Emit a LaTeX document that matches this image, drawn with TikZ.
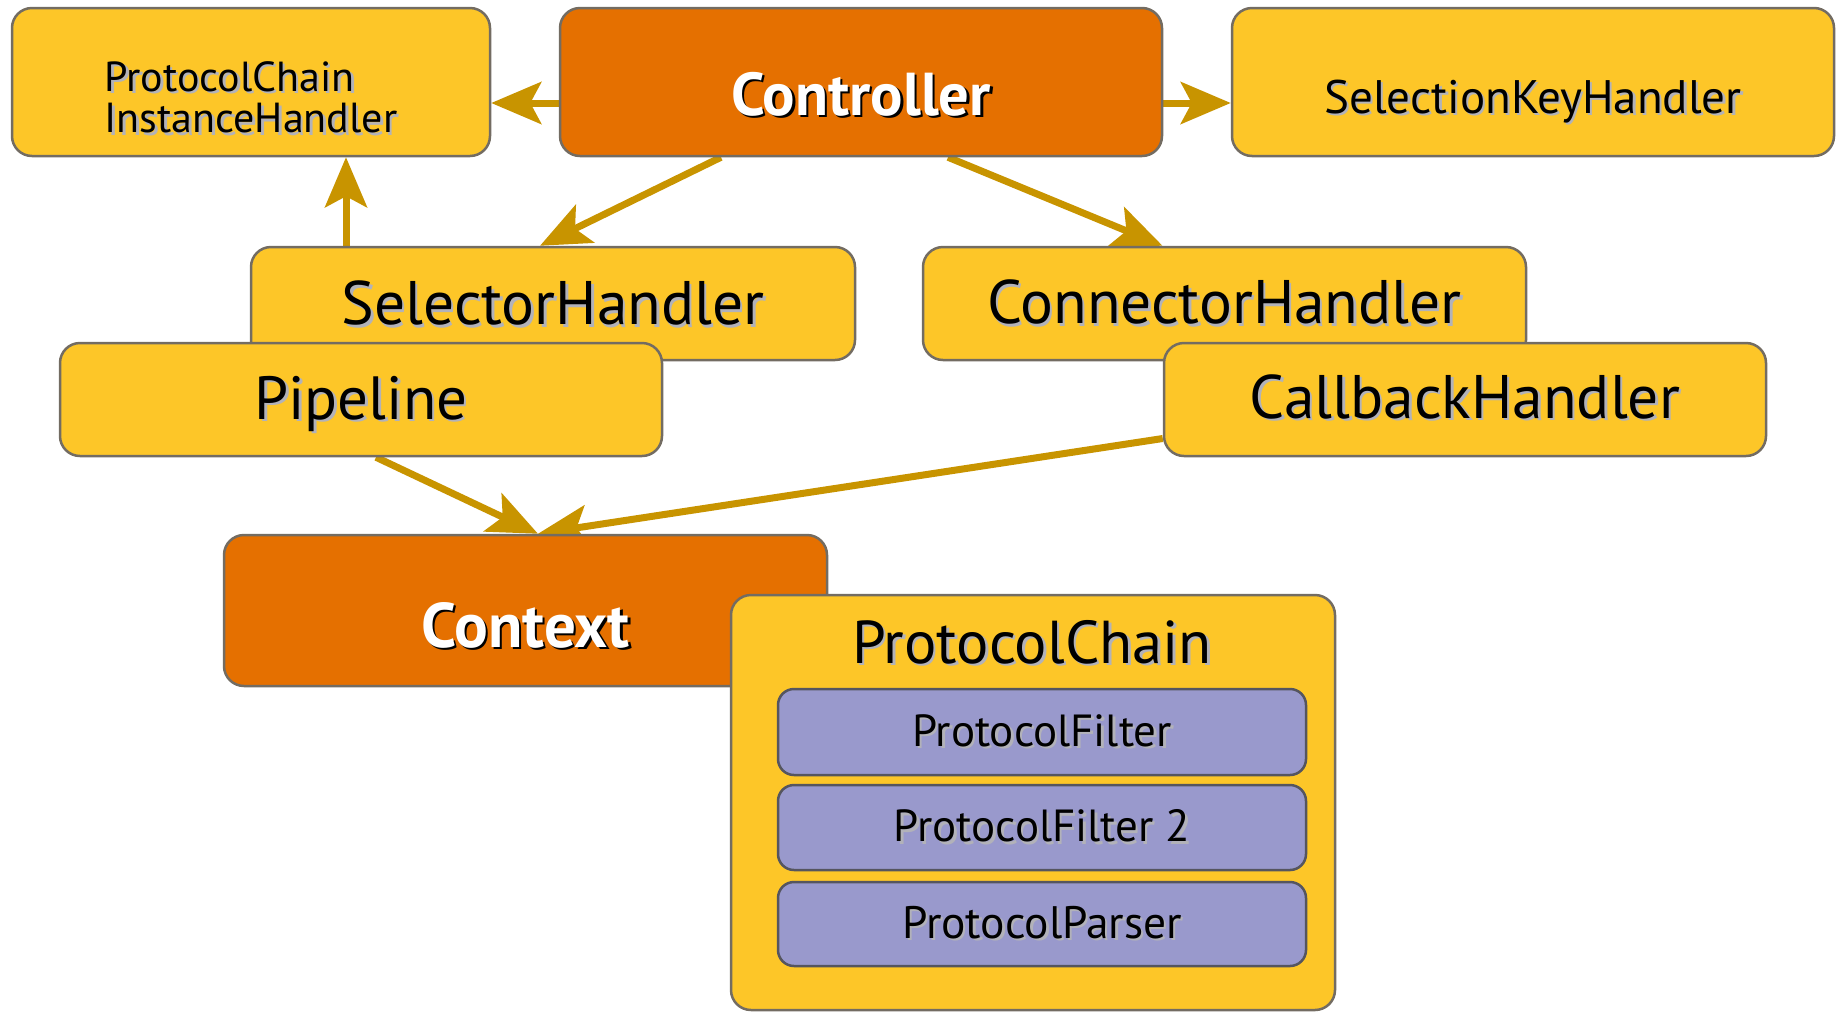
\documentclass[tikz,border=0pt]{standalone}
\usepackage{fontspec}
\setmainfont{PT Sans}
\newfontfamily\lblfont{PT Sans}
\usetikzlibrary{arrows.meta}
\definecolor{boxyellow}{RGB}{253,198,40}
\definecolor{boxorange}{RGB}{229,112,0}
\definecolor{boxpurple}{RGB}{153,153,204}
\definecolor{arrowc}{RGB}{200,148,0}
\definecolor{edgegray}{RGB}{115,108,98}
\definecolor{edgedark}{RGB}{85,85,95}
\definecolor{shadowgray}{RGB}{178,178,185}
\pgfdeclarelayer{bg}
\pgfsetlayers{bg,main}
\newcommand\shd[3]{\makebox[0pt][l]{\kern2.5pt\raisebox{-2.5pt}{\textcolor{#2}{#3}}}\textcolor{#1}{#3}}
\newcommand\lbl[5]{\raisebox{-#1pt}[0pt][0pt]{\fontsize{#2}{#2}\selectfont\shd{#3}{#4}{#5}}}
\tikzset{
  box/.style={draw=edgegray, line width=2.5pt, rounded corners=20pt, inner sep=0pt, font=\lblfont},
  ybox/.style={box, fill=boxyellow},
  obox/.style={box, fill=boxorange},
  pbox/.style={box, fill=boxpurple, draw=edgedark, rounded corners=16pt},
  arr/.style={draw=arrowc, line width=7pt, -{Stealth[length=50pt,width=42pt,inset=11pt]}},
}
\begin{document}
\begin{tikzpicture}[x=1pt,y=-1pt]
\useasboundingbox (0,0) rectangle (1841,1013);
% top row
\node[ybox, minimum width=478pt, minimum height=148pt] (pcih) at (251,82)
  {\raisebox{-9pt}[0pt][0pt]{\fontsize{42}{41}\selectfont\begin{tabular}[t]{@{}l@{}}\shd{black}{shadowgray}{ProtocolChain}\\\shd{black}{shadowgray}{InstanceHandler}\end{tabular}}};
\node[obox, minimum width=602pt, minimum height=148pt] (controller) at (861,82)
  {\lbl{33}{60.5}{white}{black}{\bfseries Controller}};
\node[ybox, minimum width=602pt, minimum height=148pt] (skh) at (1533,82)
  {\lbl{31}{47}{black}{shadowgray}{SelectionKeyHandler}};
% handlers
\node[ybox, minimum width=604pt, minimum height=113pt] (selector) at (553,303.5)
  {\lbl{21}{61.5}{black}{shadowgray}{SelectorHandler}};
\node[ybox, minimum width=603pt, minimum height=113pt] (connector) at (1224.5,303.5)
  {\lbl{20}{61.5}{black}{shadowgray}{ConnectorHandler}};
\node[ybox, minimum width=602pt, minimum height=113pt] (pipeline) at (361,399.5)
  {\lbl{19.5}{61}{black}{shadowgray}{Pipeline}};
\node[ybox, minimum width=602pt, minimum height=113pt] (callback) at (1465,399.5)
  {\lbl{18.5}{61.5}{black}{shadowgray}{CallbackHandler}};
% context and chain
\node[obox, minimum width=603pt, minimum height=151pt] (context) at (525.5,610.5)
  {\lbl{36.5}{63}{white}{black}{\bfseries Context}};
\node[ybox, minimum width=604pt, minimum height=415pt] (chain) at (1033,802.5) {};
\node[inner sep=0pt, anchor=base, font=\lblfont] (chaintitle) at (1032,663)
  {\fontsize{60.5}{60.5}\selectfont\shd{black}{shadowgray}{ProtocolChain}};
\node[pbox, minimum width=528pt, minimum height=86pt] (pf1) at (1042,732)
  {\lbl{14}{45}{black}{shadowgray}{ProtocolFilter}};
\node[pbox, minimum width=528pt, minimum height=85pt] (pf2) at (1042,827.5)
  {\lbl{14}{45}{black}{shadowgray}{ProtocolFilter 2}};
\node[pbox, minimum width=528pt, minimum height=84pt] (pp) at (1042,924)
  {\lbl{14}{45.5}{black}{shadowgray}{ProtocolParser}};
\coordinate (upx) at (346,0);
\begin{pgfonlayer}{bg}
\draw[arr] ([yshift=-21pt]controller.west) -- ([yshift=-21pt]pcih.east);
\draw[arr] ([yshift=-21pt]controller.east) -- ([yshift=-21pt]skh.west);
\draw[arr] ([xshift=-140pt]controller.south) -- ([xshift=-13pt]selector.north);
\draw[arr] ([xshift=87pt]controller.south) -- ([xshift=-62pt]connector.north);
\draw[arr] (selector.north -| upx) -- (pcih.south -| upx);
\draw[arr] ([xshift=15pt]pipeline.south) -- ([xshift=12.5pt]context.north);
\draw[arr] ([yshift=-39pt]callback.west) -- ([xshift=12.5pt]context.north);
\end{pgfonlayer}
\end{tikzpicture}
\end{document}
